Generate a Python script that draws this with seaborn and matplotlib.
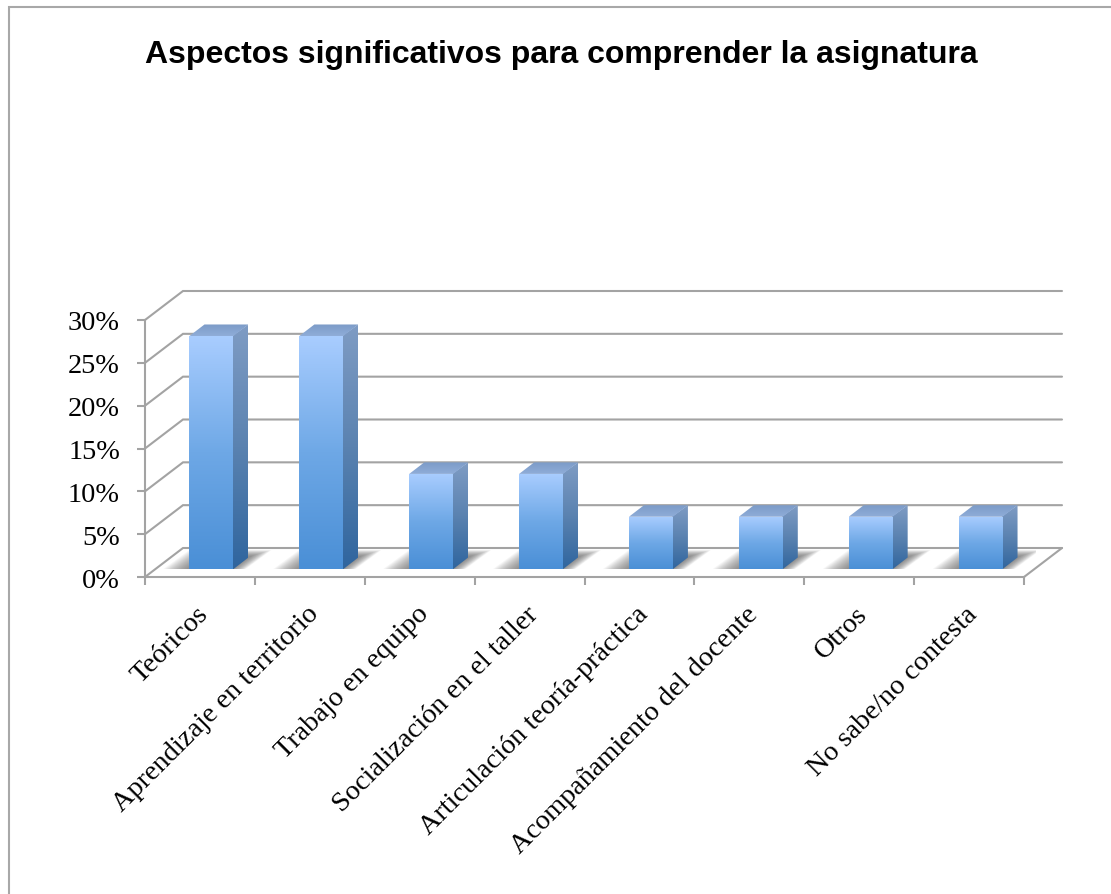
import numpy as np
import pandas as pd
import matplotlib
matplotlib.use("Agg")
import matplotlib.pyplot as plt
import seaborn as sns
from matplotlib.colors import LinearSegmentedColormap
from matplotlib.patches import Polygon, Rectangle

categories = ["Teóricos", "Aprendizaje en territorio", "Trabajo en equipo",
              "Socialización en el taller", "Articulación teoría-práctica",
              "Acompañamiento del docente", "Otros", "No sabe/no contesta"]
values = [27.2, 27.2, 11.1, 11.1, 6.1, 6.1, 6.1, 6.1]
y_ticks = [0, 5, 10, 15, 20, 25, 30]
y_tick_labels = ["0%", "5%", "10%", "15%", "20%", "25%", "30%"]
title = "Aspectos significativos para comprender la asignatura"

W, H = 1111, 894
GRID = "#a3a3a3"
LW = 1.5

sns.set_theme(style="white")
plt.rcParams["font.family"] = ["Liberation Serif", "DejaVu Serif"]

fig = plt.figure(figsize=(W / 100, H / 100), dpi=100, facecolor="white")


def axes_px(left, right, top, bottom):
    return fig.add_axes([left / W, 1 - bottom / H, (right - left) / W, (bottom - top) / H])


# chart frame: only top and left edges fall inside the picture
fig.add_artist(Rectangle((8.5 / W, -0.1), 1.2, 1.1 - 7 / H, transform=fig.transFigure,
                         fill=False, edgecolor="#a8a8a8", linewidth=1.5))
fig.text(561 / W, 1 - 55 / H, title, ha="center", va="center", fontsize=23,
         fontweight="bold", family="Liberation Sans", color="black")

# main axes: the front plane of the 3-D box
ax = axes_px(145, 1024, 320, 577)
ax.set_xlim(-0.5, len(categories) - 0.5)
ax.set_ylim(0, 30)
ax.patch.set_alpha(0)
sns.despine(ax=ax)
for s in ("left", "bottom"):
    ax.spines[s].set_color(GRID)
    ax.spines[s].set_linewidth(LW)

slot_px = (1024 - 145) / len(categories)
unit_px = (577 - 320) / 30
depth_x, depth_y = 38 / slot_px, 29 / unit_px
x0, x1 = ax.get_xlim()
for v in y_ticks:
    ax.plot([x0, x0 + depth_x, x1 + depth_x], [v, v + depth_y, v + depth_y],
            color=GRID, lw=LW, clip_on=False, zorder=1, solid_joinstyle="miter")
ax.plot([x1, x1 + depth_x], [0, depth_y], color=GRID, lw=LW, clip_on=False, zorder=1)

ax.set_yticks(y_ticks, y_tick_labels)
ax.set_xticks(np.arange(-0.5, len(categories)), minor=True)
ax.set_xticks(np.arange(len(categories)), categories, rotation=45, ha="right",
              rotation_mode="anchor")
ax.tick_params(axis="x", which="major", length=0, pad=18, labelsize=20.3, colors="black")
ax.tick_params(axis="x", which="minor", length=6, width=LW, color=GRID, direction="out", bottom=True)
ax.tick_params(axis="y", length=6, width=LW, color=GRID, direction="out", left=True,
               labelsize=20.3, pad=12, labelcolor="black")
for lab in ax.get_xticklabels():
    lab.set_transform(lab.get_transform() + matplotlib.transforms.Affine2D().translate(-4, 0))
for lab in ax.get_yticklabels():
    lab.set_transform(lab.get_transform() + matplotlib.transforms.Affine2D().translate(0, -1))
ax.set_xlabel("")
ax.set_ylabel("")

# bar axes: same scales, moved to the depth position of the bars
bx = axes_px(145 + 11.5, 1024 + 11.5, 320 - 8, 577 - 8)
bx.patch.set_alpha(0)
df = pd.DataFrame({"aspecto": categories, "valor": values})
sns.barplot(data=df, x="aspecto", y="valor", width=0.4, color="#5b9bdf", saturation=1,
            linewidth=0, ax=bx, zorder=3)
bx.set_xlim(x0, x1)
bx.set_ylim(0, 30)
bx.axis("off")

bar_dx, bar_dy = 15 / slot_px, 11.5 / unit_px
seam = 1 / slot_px
front_cm = LinearSegmentedColormap.from_list("f", ["#4a8fd6", "#6ea8e6", "#a9cdff"])
side_cm = LinearSegmentedColormap.from_list("s", ["#2f659e", "#5a82b0", "#7f9cc4"])
top_cm = LinearSegmentedColormap.from_list("t", ["#8fadd8", "#7c9bc8"])
ramp = np.linspace(1, 0, 128).reshape(-1, 1)


def face(pts, cmap, zorder):
    pts = np.array(pts)
    clip = Polygon(pts, closed=True, transform=bx.transData, fill=False, edgecolor="none")
    bx.add_patch(clip)
    im = bx.imshow(ramp, cmap=cmap, vmin=0, vmax=1, aspect="auto", zorder=zorder,
                   extent=[pts[:, 0].min(), pts[:, 0].max(), pts[:, 1].min(), pts[:, 1].max()])
    im.set_clip_path(clip)


for bar in list(bx.patches):
    xa, xb, h = bar.get_x(), bar.get_x() + bar.get_width(), bar.get_height()
    # soft floor shadow built from stacked translucent layers
    for k in range(16):
        ins = k / 15
        l = xa - (30 - 28 * ins) / slot_px
        r = xb + (8 - 8 * ins) / slot_px
        low = (-3 + 3 * ins) / unit_px
        up = (19 - 6 * ins) / unit_px
        sh = (30 - 12 * ins) / slot_px
        bx.add_patch(Polygon([(l, low), (r, low), (r + sh, up), (l + sh, up)], closed=True,
                             facecolor="#505050", edgecolor="none", alpha=0.055, zorder=2))
    face([(xb - seam, -0.1), (xb + bar_dx, bar_dy), (xb + bar_dx, h + bar_dy), (xb - seam, h)], side_cm, 4)
    face([(xa, h), (xb, h), (xb + bar_dx, h + bar_dy), (xa + bar_dx, h + bar_dy)], top_cm, 4)
    face([(xa, 0), (xb, 0), (xb, h), (xa, h)], front_cm, 5)
    bar.set_visible(False)
bx.set_xlim(x0, x1)
bx.set_ylim(0, 30)

fig.savefig("out.png", dpi=100, facecolor="white")
